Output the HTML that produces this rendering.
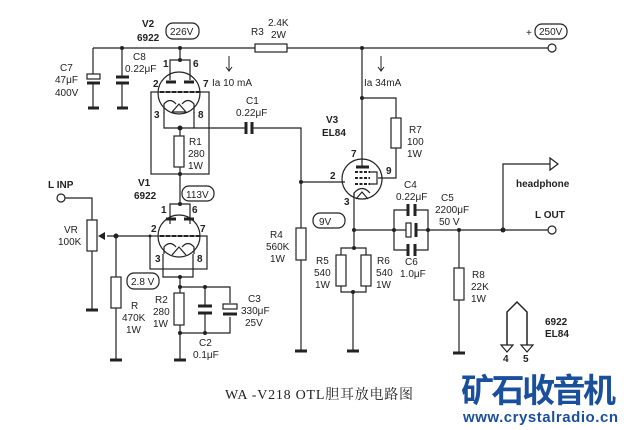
<!DOCTYPE html>
<html><head><meta charset="utf-8"><style>
body{margin:0;background:#fff;}
svg{display:block;}
text{font-family:"Liberation Sans","Noto Sans CJK SC",sans-serif;font-size:10px;fill:#222;}
.b{font-weight:bold;}
</style></head><body>
<svg width="629" height="430" viewBox="0 0 629 430" xmlns="http://www.w3.org/2000/svg">
<g stroke="#222" stroke-width="1.2" fill="none">
<line x1="93" y1="48" x2="255" y2="48"/><line x1="287" y1="48" x2="548" y2="48"/>
<rect x="255" y="44" width="32" height="8" fill="#fff"/>
<circle cx="552" cy="48" r="4"/>
<line x1="93" y1="48" x2="93" y2="74"/><rect x="87" y="74" width="13" height="5"/>
<line x1="87" y1="83" x2="100" y2="83" stroke-width="3"/><line x1="93" y1="83" x2="93" y2="108"/>
<line x1="88" y1="108" x2="99" y2="108" stroke-width="3"/>
<line x1="122" y1="48" x2="122" y2="77"/><line x1="116" y1="77" x2="129" y2="77" stroke-width="3"/>
<line x1="116" y1="83" x2="129" y2="83" stroke-width="3"/><line x1="122" y1="83" x2="122" y2="108"/>
<line x1="117" y1="108" x2="128" y2="108" stroke-width="3"/>
<line x1="180" y1="48" x2="180" y2="60"/><polyline points="170,80 170,60 190,60 190,80"/>
<circle cx="179" cy="93" r="21"/>
<line x1="166" y1="82" x2="176" y2="82" stroke-width="3"/><line x1="184" y1="82" x2="194" y2="82" stroke-width="3"/>
<line x1="160" y1="92" x2="200" y2="92" stroke-dasharray="4,2" stroke-width="2"/>
<rect x="151" y="92" width="58" height="82"/>
<path d="M164,113 V104 Q170,97 176,104 M182,104 Q188,97 194,104 V113"/>
<polyline points="172,112 179,104 186,112 172,112"/>
<polyline points="164,112 164,128 194,128 194,112"/>
<line x1="194" y1="128" x2="246" y2="128"/>
<line x1="246" y1="122" x2="246" y2="134" stroke-width="3"/><line x1="252" y1="122" x2="252" y2="134" stroke-width="3"/>
<polyline points="252,128 301,128 301,228"/>
<line x1="180" y1="128" x2="180" y2="136"/><rect x="174" y="136" width="10" height="31"/>
<line x1="180" y1="167" x2="180" y2="204"/>
<polyline points="170,224 170,204 190,204 190,224"/>
<circle cx="179" cy="236" r="21"/>
<line x1="166" y1="219" x2="176" y2="219" stroke-width="3"/><line x1="184" y1="219" x2="194" y2="219" stroke-width="3"/>
<line x1="160" y1="236" x2="200" y2="236" stroke-dasharray="4,2" stroke-width="2"/>
<rect x="150" y="236" width="57" height="33"/>
<path d="M164,254 V247 Q170,240 176,247 M182,247 Q188,240 194,247 V254"/>
<polyline points="172,255 179,247 186,255"/>
<polyline points="163,254 163,277 193,277 193,254"/>
<line x1="107" y1="236" x2="150" y2="236"/>
<line x1="180" y1="277" x2="180" y2="293"/><rect x="174" y="293" width="10" height="32"/>
<line x1="180" y1="325" x2="180" y2="360"/><line x1="174" y1="360" x2="186" y2="360" stroke-width="3"/>
<polyline points="180,287 230,287 230,303"/><polyline points="180,333 230,333 230,317"/>
<line x1="205" y1="287" x2="205" y2="306"/><line x1="198" y1="306" x2="212" y2="306" stroke-width="3"/>
<line x1="198" y1="313" x2="212" y2="313" stroke-width="3"/><line x1="205" y1="313" x2="205" y2="333"/>
<rect x="223" y="304" width="14" height="5"/><line x1="223" y1="314" x2="237" y2="314" stroke-width="3"/>
<circle cx="61" cy="198" r="4"/><polyline points="65,198 92,198 92,220"/>
<rect x="87" y="220" width="10" height="31"/><line x1="92" y1="251" x2="92" y2="310"/>
<line x1="86" y1="310" x2="98" y2="310" stroke-width="3"/>
<line x1="116" y1="236" x2="116" y2="277"/><rect x="111" y="277" width="10" height="31"/>
<line x1="116" y1="308" x2="116" y2="360"/><line x1="110" y1="360" x2="122" y2="360" stroke-width="3"/>
<rect x="296" y="228" width="10" height="32"/><line x1="301" y1="260" x2="301" y2="351"/>
<line x1="295" y1="351" x2="307" y2="351" stroke-width="3"/>
<line x1="301" y1="182" x2="345" y2="182"/>
<line x1="362" y1="48" x2="362" y2="166"/>
<polyline points="362,98 396,98 396,118"/><rect x="391" y="118" width="10" height="30"/>
<polyline points="396,148 396,178 378,178"/>
<circle cx="362" cy="179" r="20"/>
<line x1="356" y1="167" x2="369" y2="167" stroke-width="3"/>
<line x1="355" y1="172" x2="370" y2="172" stroke-dasharray="3,1.5" stroke-width="2"/>
<line x1="355" y1="178" x2="370" y2="178" stroke-dasharray="3,1.5" stroke-width="2"/>
<line x1="355" y1="184" x2="370" y2="184" stroke-dasharray="3,1.5" stroke-width="2"/>
<polyline points="370,172 377,172 377,184 370,184"/>
<path d="M354,196 V193 Q362,184 370,193"/><polyline points="356,199 362,192 368,199"/>
<line x1="354" y1="193" x2="354" y2="248"/>
<polyline points="341,255 341,248 366,248 366,255"/>
<rect x="336" y="255" width="10" height="31"/><rect x="361" y="255" width="10" height="31"/>
<polyline points="341,286 341,292 366,292 366,286"/>
<line x1="353" y1="292" x2="353" y2="351"/><line x1="347" y1="351" x2="359" y2="351" stroke-width="3"/>
<line x1="354" y1="230" x2="408" y2="230"/><line x1="416" y1="230" x2="548" y2="230"/>
<polyline points="408,210 394,210 394,250 408,250"/><polyline points="416,210 428,210 428,250 416,250"/>
<line x1="408" y1="204" x2="408" y2="216" stroke-width="3"/><line x1="415" y1="204" x2="415" y2="216" stroke-width="3"/>
<line x1="408" y1="244" x2="408" y2="256" stroke-width="3"/><line x1="415" y1="244" x2="415" y2="256" stroke-width="3"/>
<rect x="406" y="223" width="5" height="14" fill="#fff"/><line x1="416" y1="223" x2="416" y2="237" stroke-width="3"/>
<circle cx="552" cy="230" r="4"/>
<line x1="459" y1="230" x2="459" y2="268"/><rect x="454" y="268" width="10" height="32"/>
<line x1="459" y1="300" x2="459" y2="353"/><line x1="453" y1="353" x2="465" y2="353" stroke-width="3"/>
<polyline points="503,230 503,164 550,164"/><polygon points="550,158 558,164 550,170"/>
<polyline points="507,345 507,312 517,302 527,312 527,345" stroke-width="1.5"/>
<polygon points="501,345 513,345 507,352"/><polygon points="521,345 533,345 527,352"/>
<rect x="166" y="23" width="33" height="16" rx="7"/><rect x="182" y="186" width="32" height="15" rx="7"/>
<rect x="127" y="273" width="32" height="16" rx="7"/><rect x="313" y="213" width="32" height="15" rx="7"/>
<rect x="535" y="24" width="32" height="15" rx="7"/>
<line x1="229" y1="56" x2="229" y2="70" stroke-width="1"/><polyline points="226,67 229,71 232,67" stroke-width="1"/>
<line x1="381" y1="56" x2="381" y2="70" stroke-width="1"/><polyline points="378,67 381,71 384,67" stroke-width="1"/>
</g>
<g fill="#222">
<circle cx="122" cy="48" r="2"/><circle cx="180" cy="48" r="2"/><circle cx="362" cy="48" r="2"/><circle cx="180" cy="60" r="2"/>
<circle cx="180" cy="128" r="2.5"/><circle cx="301" cy="182" r="2"/><circle cx="180" cy="174" r="2"/><circle cx="180" cy="204" r="2"/>
<circle cx="116" cy="236" r="2.5"/><circle cx="150" cy="236" r="1.5"/><circle cx="180" cy="277" r="2"/><circle cx="180" cy="287" r="2"/>
<circle cx="205" cy="287" r="2"/><circle cx="205" cy="333" r="2"/><circle cx="180" cy="333" r="2"/>
<circle cx="362" cy="98" r="2"/><circle cx="354" cy="230" r="2"/><circle cx="354" cy="248" r="2"/><circle cx="353" cy="292" r="2"/>
<circle cx="394" cy="230" r="2"/><circle cx="428" cy="230" r="2"/><circle cx="459" cy="230" r="2"/><circle cx="503" cy="230" r="2.5"/>
<polygon points="98,236 105,232 105,240"/>
</g>
<text x="142" y="27" class="b" font-size="12">V2</text><text x="137" y="41" class="b">6922</text><text x="170" y="35">226V</text>
<text x="251" y="35">R3</text><text x="268" y="26">2.4K</text><text x="271" y="38">2W</text>
<text x="60" y="71">C7</text><text x="55" y="83">47μF</text><text x="55" y="96">400V</text>
<text x="133" y="60">C8</text><text x="125" y="72">0.22μF</text>
<text x="163" y="67" class="b">1</text><text x="193" y="67" class="b">6</text><text x="153" y="87" class="b">2</text><text x="203" y="87" class="b">7</text>
<text x="154" y="118" class="b">3</text><text x="198" y="118" class="b">8</text><text x="212" y="86">Ia 10 mA</text>
<text x="246" y="104">C1</text><text x="236" y="116">0.22μF</text>
<text x="189" y="145">R1</text><text x="188" y="157">280</text><text x="188" y="169">1W</text>
<text x="138" y="186" class="b" font-size="12">V1</text><text x="134" y="199" class="b">6922</text><text x="186" y="198">113V</text>
<text x="48" y="188" class="b">L INP</text><text x="64" y="233">VR</text><text x="58" y="245">100K</text>
<text x="161" y="213" class="b">1</text><text x="192" y="213" class="b">6</text><text x="151" y="232" class="b">2</text><text x="200" y="232" class="b">7</text>
<text x="155" y="262" class="b">3</text><text x="197" y="262" class="b">8</text><text x="131" y="285">2.8 V</text>
<text x="131" y="309">R</text><text x="122" y="321">470K</text><text x="126" y="333">1W</text>
<text x="155" y="303">R2</text><text x="153" y="315">280</text><text x="153" y="327">1W</text>
<text x="248" y="302">C3</text><text x="241" y="314">330μF</text><text x="245" y="326">25V</text>
<text x="199" y="346">C2</text><text x="193" y="358">0.1μF</text>
<text x="270" y="238">R4</text><text x="266" y="250">560K</text><text x="270" y="262">1W</text>
<text x="326" y="123" class="b" font-size="12">V3</text><text x="322" y="136" class="b">EL84</text>
<text x="364" y="86">Ia 34mA</text><text x="409" y="133">R7</text><text x="407" y="145">100</text><text x="407" y="157">1W</text>
<text x="351" y="157" class="b">7</text><text x="386" y="174" class="b">9</text><text x="330" y="179" class="b">2</text><text x="344" y="205" class="b">3</text>
<text x="319" y="225">9V</text><text x="539" y="35">250V</text><text x="526" y="36">+</text>
<text x="404" y="188">C4</text><text x="396" y="200">0.22μF</text>
<text x="441" y="201">C5</text><text x="435" y="213">2200μF</text><text x="439" y="225">50 V</text>
<text x="405" y="265">C6</text><text x="400" y="277">1.0μF</text>
<text x="316" y="264">R5</text><text x="314" y="276">540</text><text x="315" y="288">1W</text>
<text x="377" y="264">R6</text><text x="376" y="276">540</text><text x="376" y="288">1W</text>
<text x="472" y="278">R8</text><text x="471" y="290">22K</text><text x="471" y="302">1W</text>
<text x="516" y="187" class="b" font-size="12">headphone</text><text x="535" y="218" class="b">L OUT</text>
<text x="545" y="325" class="b">6922</text><text x="545" y="337" class="b">EL84</text>
<text x="503" y="362" class="b">4</text><text x="523" y="362" class="b">5</text>
<text x="225" y="399" style="font-family:'Liberation Serif','Noto Serif CJK SC',serif;font-size:14px" textLength="188">WA -V218  OTL胆耳放电路图</text>
<text x="461" y="402" style="font-size:33px;font-weight:bold;fill:#1a4f9c;font-family:'Noto Sans CJK SC',sans-serif" textLength="155">矿石收音机</text>
<text x="463" y="422" style="font-size:15px;font-weight:bold;fill:#1a4f9c" textLength="155">www.crystalradio.cn</text>
</svg>
</body></html>
